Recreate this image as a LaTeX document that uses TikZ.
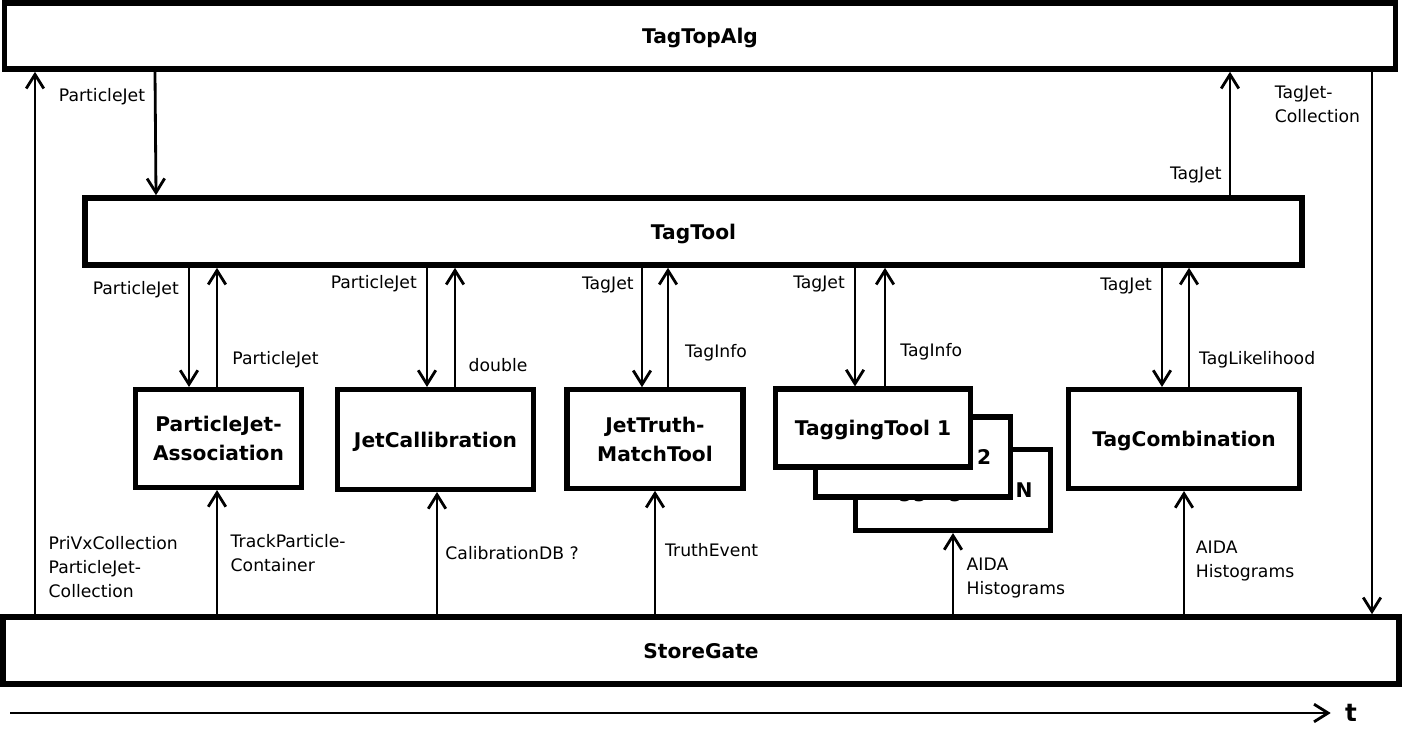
\documentclass[tikz,border=0pt]{standalone}
\usepackage{fontspec}
\setmainfont{DejaVu Sans}
\usepackage{tikz}
\usetikzlibrary{arrows,shapes,positioning}
\usetikzlibrary{arrows.meta}
\tikzstyle{bigbox}=[draw, line width=3.2pt, fill=white, inner sep=0pt, text depth=-4pt, align=center, font=\fontsize{11.5}{16.5}\selectfont\bfseries]
\tikzstyle{toolbox}=[bigbox, line width=2.9pt]
\tikzstyle{dataFlow}=[line width=1.6pt, -{Straight Barb[length=8pt,width=10pt]}]
\tikzstyle{flowlabel}=[inner sep=0pt, align=left, font=\fontsize{9.8}{13.8}\selectfont]

\begin{document}
\begin{tikzpicture}[x=0.02cm, y=-0.02cm]
    \useasboundingbox (0,0) rectangle (1402,754);

    \node[bigbox, minimum width=27.83cm, minimum height=1.32cm] (TagTopAlg) at (700, 36) {TagTopAlg};
    \node[bigbox, minimum width=24.34cm, minimum height=1.34cm] (TagTool) at (693.5, 231.5) {TagTool};
    \node[bigbox, minimum width=27.92cm, minimum height=1.34cm] (StoreGate) at (701, 650.5) {StoreGate};

    \node[toolbox, minimum width=3.32cm, minimum height=1.96cm] (PJAssoc) at (218.5, 438.5) {ParticleJet-\\Association};
    \node[toolbox, minimum width=3.92cm, minimum height=2cm] (JetCalib) at (435.5, 439.5) {JetCallibration};
    \node[toolbox, minimum width=3.52cm, minimum height=1.97cm] (JetTruth) at (655, 439) {JetTruth-\\MatchTool};
    \node[toolbox, minimum width=4.62cm, minimum height=1.98cm] (TagComb) at (1184, 439) {TagCombination};

    % stacked tagging tools
    \node[toolbox, minimum width=3.9cm, minimum height=1.62cm] (TaggingN) at (953, 490) {TaggingTool N};
    \node[toolbox, minimum width=3.9cm, minimum height=1.6cm] (Tagging2) at (913, 457) {TaggingTool 2};
    \node[toolbox, minimum width=3.9cm, minimum height=1.56cm] (Tagging1) at (873, 428) {TaggingTool 1};

    % TagTopAlg and TagTool
    \draw[dataFlow] (TagTopAlg.south -| 155,0) -- node[flowlabel, pos=0.2, left=5pt] {ParticleJet} (TagTool.north -| 156,0);
    \draw[dataFlow] (TagTool.north -| 1230,0) -- node[flowlabel, pos=0.16, left=4pt] {TagJet} (TagTopAlg.south -| 1230,0);
    \draw[dataFlow] (StoreGate.north -| 35,0) -- node[flowlabel, pos=0.087, right=7pt] {PriVxCollection\\ParticleJet-\\Collection} (TagTopAlg.south -| 35,0);
    \draw[dataFlow] (TagTopAlg.south -| 1372,0) -- node[flowlabel, pos=0.06, left=6pt] {TagJet-\\Collection} (StoreGate.north -| 1372,0);

    % TagTool and the tools
    \draw[dataFlow] (TagTool.south -| 189,0) -- node[flowlabel, pos=0.18, left=5pt] {ParticleJet} (PJAssoc.north -| 189,0);
    \draw[dataFlow] (PJAssoc.north -| 217,0) -- node[flowlabel, pos=0.23, right=8pt] {ParticleJet} (TagTool.south -| 217,0);
    \draw[dataFlow] (TagTool.south -| 427,0) -- node[flowlabel, pos=0.13, left=5pt] {ParticleJet} (JetCalib.north -| 427,0);
    \draw[dataFlow] (JetCalib.north -| 455,0) -- node[flowlabel, pos=0.18, right=7pt] {double} (TagTool.south -| 455,0);
    \draw[dataFlow] (TagTool.south -| 642,0) -- node[flowlabel, pos=0.14, left=4pt] {TagJet} (JetTruth.north -| 642,0);
    \draw[dataFlow] (JetTruth.north -| 668,0) -- node[flowlabel, pos=0.29, right=9pt] {TagInfo} (TagTool.south -| 668,0);
    \draw[dataFlow] (TagTool.south -| 855,0) -- node[flowlabel, pos=0.14, left=5pt] {TagJet} (Tagging1.north -| 855,0);
    \draw[dataFlow] (Tagging1.north -| 885,0) -- node[flowlabel, pos=0.29, right=8pt] {TagInfo} (TagTool.south -| 885,0);
    \draw[dataFlow] (TagTool.south -| 1162,0) -- node[flowlabel, pos=0.15, left=5pt] {TagJet} (TagComb.north -| 1162,0);
    \draw[dataFlow] (TagComb.north -| 1189,0) -- node[flowlabel, pos=0.23, right=5pt] {TagLikelihood} (TagTool.south -| 1189,0);

    % StoreGate and the tools
    \draw[dataFlow] (StoreGate.north -| 217,0) -- node[flowlabel, pos=0.49, right=7pt] {TrackParticle-\\Container} (PJAssoc.south -| 217,0);
    \draw[dataFlow] (StoreGate.north -| 437,0) -- node[flowlabel, pos=0.5, right=4pt] {CalibrationDB ?} (JetCalib.south -| 437,0);
    \draw[dataFlow] (StoreGate.north -| 655,0) -- node[flowlabel, pos=0.52, right=5pt] {TruthEvent} (JetTruth.south -| 655,0);
    \draw[dataFlow] (StoreGate.north -| 953,0) -- node[flowlabel, pos=0.45, right=7pt] {AIDA\\Histograms} (TaggingN.south -| 953,0);
    \draw[dataFlow] (StoreGate.north -| 1184,0) -- node[flowlabel, pos=0.43, right=6pt] {AIDA\\Histograms} (TagComb.south -| 1184,0);

    % time axis
    \coordinate (tStart) at (10, 713);
    \node[inner sep=0pt, font=\fontsize{14}{14}\selectfont\bfseries] (tLabel) at (1351, 713) {t};
    \draw[dataFlow] (tStart) -- ([xshift=-8pt]tLabel.west);

\end{tikzpicture}
\end{document}
